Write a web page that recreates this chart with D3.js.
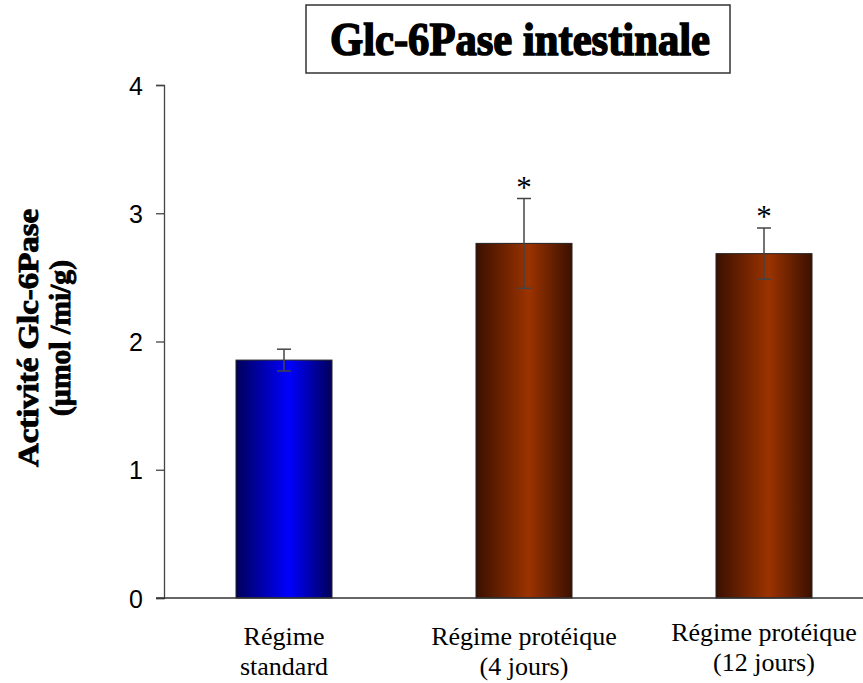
<!DOCTYPE html>
<html>
<head>
<meta charset="utf-8">
<script src="https://cdn.jsdelivr.net/npm/d3@7/dist/d3.min.js"></script>
<style>
  html, body { margin: 0; padding: 0; background: #fff; }
  svg { display: block; }
</style>
</head>
<body>
<svg id="chart" width="863" height="683"></svg>
<script>
// Glc-6Pase activity per diet group
const categories = [
  ["Régime", "standard"],
  ["Régime protéique", "(4 jours)"],
  ["Régime protéique", "(12 jours)"]
];
const values = [1.855, 2.765, 2.685];
const errors = [0.085, 0.35, 0.2];
const significant = [false, true, true];
const yTicks = [0, 1, 2, 3, 4];
const titleText = "Glc-6Pase intestinale";
const yLabelLines = ["Activité Glc-6Pase", "(µmol /mi/g)"];

const svg = d3.select("#chart");
const W = 863, H = 683;
const plot = { left: 164, right: 884, top: 85, bottom: 598 };
const serif = "'Liberation Serif', 'Times New Roman', serif";
const sans = "'Liberation Sans', Arial, sans-serif";

const x = d3.scaleBand()
  .domain(d3.range(categories.length))
  .range([plot.left, plot.right])
  .paddingInner(0.6)
  .paddingOuter(0.3);

const y = d3.scaleLinear().domain([0, 4]).range([plot.bottom, plot.top]);

// Horizontal gradients for the bar shading
const defs = svg.append("defs");
function addGradient(id, edge, mid) {
  const g = defs.append("linearGradient").attr("id", id)
    .attr("x1", "0%").attr("x2", "100%").attr("y1", "0%").attr("y2", "0%");
  g.append("stop").attr("offset", "0%").attr("stop-color", edge);
  g.append("stop").attr("offset", "55%").attr("stop-color", mid);
  g.append("stop").attr("offset", "100%").attr("stop-color", edge);
}
addGradient("gBlue", "#00005a", "#0000ff");
addGradient("gBrown", "#3a1000", "#9c3300");
const fills = ["url(#gBlue)", "url(#gBrown)", "url(#gBrown)"];

// Bars
svg.append("g").selectAll("rect")
  .data(values)
  .join("rect")
  .attr("x", (d, i) => x(i))
  .attr("y", d => y(d))
  .attr("width", x.bandwidth())
  .attr("height", d => y(0) - y(d))
  .attr("fill", (d, i) => fills[i])
  .attr("stroke", "#222")
  .attr("stroke-width", 1);

// Error bars
const eb = svg.append("g").attr("stroke", "#444").attr("stroke-width", 1.5);
values.forEach((v, i) => {
  const cx = x(i) + x.bandwidth() / 2;
  const hi = y(v + errors[i]), lo = y(v - errors[i]);
  eb.append("line").attr("x1", cx).attr("x2", cx).attr("y1", hi).attr("y2", lo);
  eb.append("line").attr("x1", cx - 7).attr("x2", cx + 7).attr("y1", hi).attr("y2", hi);
  eb.append("line").attr("x1", cx - 7).attr("x2", cx + 7).attr("y1", lo).attr("y2", lo);
});

// Significance markers
svg.append("g").selectAll("text")
  .data(values.map((v, i) => ({ v, i })).filter(d => significant[d.i]))
  .join("text")
  .attr("x", d => x(d.i) + x.bandwidth() / 2)
  .attr("y", d => y(d.v + errors[d.i]) - 1)
  .attr("text-anchor", "middle")
  .style("font-family", serif)
  .style("font-size", "31px")
  .attr("fill", "#000")
  .text("*");

// Y axis
const yAxis = d3.axisLeft(y).tickValues(yTicks).tickSize(8).tickFormat(d3.format("d"));
const gy = svg.append("g").attr("transform", `translate(${plot.left},0)`).call(yAxis);
gy.select(".domain").attr("stroke", "#444").attr("stroke-width", 1.3);
gy.selectAll(".tick line").attr("stroke", "#444").attr("stroke-width", 1.3);
gy.selectAll(".tick text")
  .style("font-family", sans)
  .style("font-size", "25px")
  .attr("fill", "#000")
  .attr("x", -21)
  .attr("dy", "0.36em");

// X baseline
svg.append("line")
  .attr("x1", plot.left - 8).attr("x2", W)
  .attr("y1", y(0)).attr("y2", y(0))
  .attr("stroke", "#333").attr("stroke-width", 1.5);

// Category labels
const labelYOffset = [0, 0, -4];
const xl = svg.append("g")
  .style("font-family", serif)
  .style("font-size", "26px")
  .attr("fill", "#000")
  .attr("text-anchor", "middle");
categories.forEach((lines, i) => {
  const cx = x(i) + x.bandwidth() / 2;
  const t = xl.append("text").attr("x", cx).attr("y", 645 + labelYOffset[i]);
  t.append("tspan").attr("x", cx).text(lines[0]);
  t.append("tspan").attr("x", cx).attr("dy", 30).text(lines[1]);
});

// Y axis title
const yt = svg.append("text")
  .attr("transform", "translate(0,338) rotate(-90)")
  .style("font-family", serif)
  .style("font-weight", "bold")
  .style("font-size", "29px")
  .attr("text-anchor", "middle")
  .attr("fill", "#000")
  .attr("stroke", "#000")
  .attr("stroke-width", 0.9);
yt.append("tspan").attr("x", 0).attr("y", 38)
  .attr("textLength", 258).attr("lengthAdjust", "spacingAndGlyphs")
  .text(yLabelLines[0]);
yt.append("tspan").attr("x", 0).attr("y", 70)
  .attr("textLength", 156).attr("lengthAdjust", "spacingAndGlyphs")
  .text(yLabelLines[1]);

// Title box
svg.append("rect")
  .attr("x", 306).attr("y", 5).attr("width", 424).attr("height", 68)
  .attr("fill", "#fff").attr("stroke", "#333").attr("stroke-width", 1.5);
svg.append("text")
  .attr("x", 520).attr("y", 55)
  .attr("text-anchor", "middle")
  .style("font-family", serif)
  .style("font-weight", "bold")
  .style("font-size", "47px")
  .attr("textLength", 380).attr("lengthAdjust", "spacingAndGlyphs")
  .attr("fill", "#000")
  .attr("stroke", "#000")
  .attr("stroke-width", 1.6)
  .text(titleText);
</script>
</body>
</html>
